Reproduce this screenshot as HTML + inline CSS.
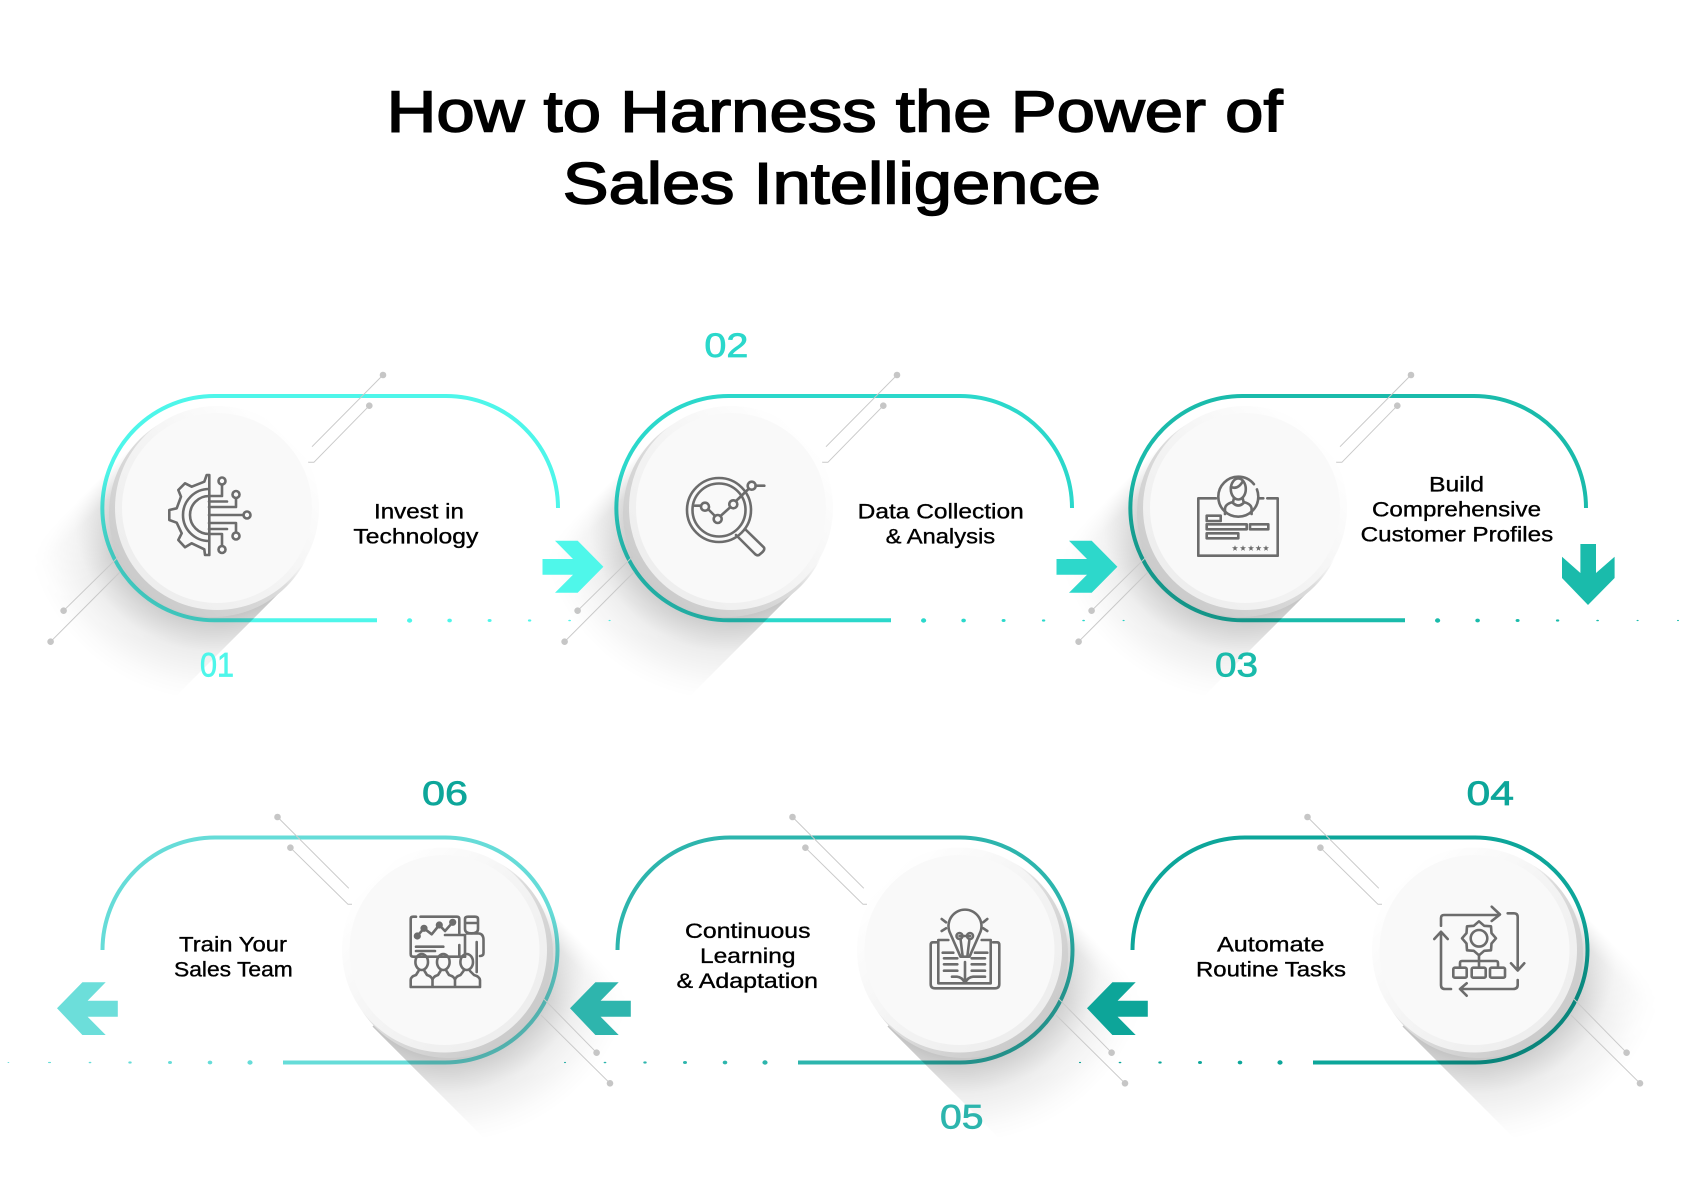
<!DOCTYPE html>
<html><head><meta charset="utf-8"><title>How to Harness the Power of Sales Intelligence</title>
<style>
html,body{margin:0;padding:0;background:#fff}
svg{display:block}
text{font-family:"Liberation Sans",Arial,sans-serif}
.t{fill:#000;stroke:#000;stroke-width:.35;font-size:21px}
.n{font-size:34px;stroke-width:.7}
.h{fill:#000;stroke:#000;stroke-width:1.5;font-size:58px}
.ic{fill:none;stroke:#6c6c6c;stroke-width:2.6;stroke-linecap:round;stroke-linejoin:round}
.dl{stroke:#c9c9c9;stroke-width:1;fill:none}
.dd{fill:#c6c6c6}
</style></head><body>
<svg width="1681" height="1181" viewBox="0 0 1681 1181" xmlns="http://www.w3.org/2000/svg">
<defs>
<radialGradient id="sx" cx="0" cy="0" r="190" gradientUnits="userSpaceOnUse">
<stop offset=".5" stop-color="#000" stop-opacity=".27"/><stop offset=".58" stop-color="#000" stop-opacity=".2"/><stop offset=".74" stop-color="#000" stop-opacity=".07"/><stop offset=".92" stop-color="#000" stop-opacity=".015"/><stop offset="1" stop-color="#000" stop-opacity="0"/>
</radialGradient>
<linearGradient id="sy" x1="0" x2="0" y1="-104" y2="104" gradientUnits="userSpaceOnUse">
<stop offset="0" stop-color="#fff"/><stop offset=".7" stop-color="#eee"/><stop offset=".9" stop-color="#999"/><stop offset="1" stop-color="#000"/>
</linearGradient>
<mask id="sm" maskUnits="userSpaceOnUse" x="-10" y="-110" width="230" height="220"><rect x="-10" y="-110" width="230" height="220" fill="url(#sy)"/></mask>
<g id="shadow"><rect x="0" y="-104" width="190" height="208" fill="url(#sx)" mask="url(#sm)"/></g>
<linearGradient id="d1" x1="0" y1="1" x2="1" y2="0"><stop offset="0" stop-color="#ebebeb"/><stop offset=".5" stop-color="#f4f4f4"/><stop offset=".85" stop-color="#fff"/></linearGradient>
<linearGradient id="d2" x1="1" y1="1" x2="0" y2="0"><stop offset="0" stop-color="#ebebeb"/><stop offset=".5" stop-color="#f4f4f4"/><stop offset=".85" stop-color="#fff"/></linearGradient>
<linearGradient id="g1" x1="0" y1="1" x2="1" y2="0"><stop offset="0" stop-color="#c4c4c4"/><stop offset=".5" stop-color="#dcdcdc"/><stop offset=".62" stop-color="#fff"/></linearGradient>
<linearGradient id="g2" x1="1" y1="1" x2="0" y2="0"><stop offset="0" stop-color="#c4c4c4"/><stop offset=".5" stop-color="#dcdcdc"/><stop offset=".62" stop-color="#fff"/></linearGradient>
<polygon id="star" points="0,-3 .8,-1 3,-1 1.2,.4 1.9,2.6 0,1.3 -1.9,2.6 -1.2,.4 -3,-1 -.8,-1"/>

<g id="r1">
<path d="M558 508A112 112 0 0 0 446 396H214.5A112 112 0 0 0 214.5 620.3H377" fill="none" stroke="currentColor" stroke-width="4"/>
<use href="#shadow" transform="translate(214 511) rotate(135)"/>
<path class="dl" d="M383 375L312 446.7M369.3 405.7L313.9 462.3H308M63.6 610.7L121 554.3H125M50.6 641.7L120 572"/>
<circle class="dd" cx="383" cy="375" r="3.3"/><circle class="dd" cx="369.3" cy="405.7" r="3.3"/><circle class="dd" cx="63.6" cy="610.7" r="3.3"/><circle class="dd" cx="50.6" cy="641.7" r="3.3"/>
<circle cx="213" cy="513" r="104" fill="url(#g1)"/>
<circle cx="217" cy="508" r="102" fill="url(#d1)"/>
<circle cx="217" cy="508" r="95" fill="#f9f9f9"/>
<g fill="currentColor"><ellipse cx="409.6" cy="620.5" rx="2.6" ry="2.2"/><ellipse cx="449.6" cy="620.5" rx="2.3" ry="1.9"/><ellipse cx="489.6" cy="620.5" rx="2" ry="1.5"/><ellipse cx="529.6" cy="620.5" rx="1.7" ry="1.1"/><ellipse cx="569.6" cy="620.5" rx="1.4" ry=".8"/><ellipse cx="609.6" cy="620.5" rx="1.1" ry=".6"/></g>
</g>

<g id="r2">
<path d="M1132.5 950A112.5 112.5 0 0 1 1245 837.5H1475A112.5 112.5 0 0 1 1475 1062.5H1313" fill="none" stroke="currentColor" stroke-width="4"/>
<use href="#shadow" transform="translate(1476 953) rotate(45) scale(1 -1)"/>
<path class="dl" d="M1307.5 817L1378.8 888.3M1320.4 847.7L1378 904.3H1382M1566 996H1571L1626.6 1052.7M1571 1015L1640 1083.3"/>
<circle class="dd" cx="1307.5" cy="817" r="3.3"/><circle class="dd" cx="1320.4" cy="847.7" r="3.3"/><circle class="dd" cx="1626.6" cy="1052.7" r="3.3"/><circle class="dd" cx="1640" cy="1083.3" r="3.3"/>
<circle cx="1479" cy="954" r="104" fill="url(#g2)"/>
<circle cx="1474.5" cy="950" r="102.5" fill="url(#d2)"/>
<circle cx="1474.5" cy="950" r="95" fill="#f9f9f9"/>
<g fill="currentColor"><ellipse cx="1280" cy="1062.5" rx="2.6" ry="2.2"/><ellipse cx="1240" cy="1062.5" rx="2.3" ry="1.9"/><ellipse cx="1200" cy="1062.5" rx="2" ry="1.5"/><ellipse cx="1160" cy="1062.5" rx="1.7" ry="1.1"/><ellipse cx="1120" cy="1062.5" rx="1.4" ry=".8"/><ellipse cx="1080" cy="1062.5" rx="1.1" ry=".6"/></g>
</g>
</defs>

<rect width="1681" height="1181" fill="#fff"/>

<text class="h" x="386.6" y="131.7" textLength="896" lengthAdjust="spacingAndGlyphs">How to Harness the Power of</text>
<text class="h" x="562.8" y="203.3" textLength="538" lengthAdjust="spacingAndGlyphs">Sales Intelligence</text>

<use href="#r1" style="color:#4ef6ea"/>
<use href="#r1" transform="translate(514 0)" style="color:#2bd8cb"/>
<use href="#r1" transform="translate(1028 0)" style="color:#1abbab"/>
<ellipse cx="1678" cy="620.5" rx="1" ry=".6" fill="#1abbab"/>
<use href="#r2" style="color:#0da69a"/>
<use href="#r2" transform="translate(-515 0)" style="color:#2db5ad"/>
<use href="#r2" transform="translate(-1030 0)" style="color:#66dcd8"/>
<g fill="#66dcd8"><ellipse cx="49" cy="1062.5" rx="1" ry=".6"/><ellipse cx="8.4" cy="1062.5" rx=".9" ry=".5"/></g>

<!-- arrows -->
<polygon fill="#4ff7ea" points="542.5,559 573,559 555,540.7 577.7,540.7 603.4,566.7 577.7,592.7 555,592.7 573,574.7 542.5,574.7"/>
<polygon fill="#2dd8cb" transform="translate(514 0)" points="542.5,559 573,559 555,540.7 577.7,540.7 603.4,566.7 577.7,592.7 555,592.7 573,574.7 542.5,574.7"/>
<polygon fill="#1abbab" points="1580.4,544 1596,544 1596,573 1614.6,556.7 1614.6,578 1588,605 1562,578 1562,556.7 1580.4,573"/>
<polygon fill="#0da599" points="1087,1008.3 1112.4,982.3 1135.7,982.3 1117.6,1000.7 1147.8,1000.7 1147.8,1016.7 1117.6,1016.7 1135.7,1035 1112.4,1035"/>
<polygon fill="#2eb5ad" transform="translate(-517 0)" points="1087,1008.3 1112.4,982.3 1135.7,982.3 1117.6,1000.7 1147.8,1000.7 1147.8,1016.7 1117.6,1016.7 1135.7,1035 1112.4,1035"/>
<polygon fill="#6cdeda" transform="translate(-1030 0)" points="1087,1008.3 1112.4,982.3 1135.7,982.3 1117.6,1000.7 1147.8,1000.7 1147.8,1016.7 1117.6,1016.7 1135.7,1035 1112.4,1035"/>

<!-- icon 1 -->
<g class="ic">
<path d="M209.3 475H206.7L204.3 481.7L191.7 486.7L185 483.3L178.3 490L181 496.7L176.7 508.3L169.3 510V520L176.7 522.7L181.7 533.3L178.3 540L185 547.3L191.7 543.3L204.3 549.3L205 555H209.3Z"/>
<path d="M209 489A26 26 0 0 0 209 541M209 496A19 19 0 0 0 209 534"/>
<path d="M209 515H243.5M209 496H222V484.5M209 507H236V498M209 501.5H227M209 523H236V532.5M209 529H227M209 534H222V546"/>
<circle cx="247" cy="515" r="3.5"/><circle cx="222" cy="481" r="3.5"/><circle cx="236" cy="494.5" r="3.5"/><circle cx="236" cy="536" r="3.5"/><circle cx="222" cy="549.5" r="3.5"/>
</g>
<!-- icon 2 -->
<g class="ic">
<circle cx="719" cy="510" r="32"/><circle cx="719" cy="510" r="26.5"/>
<path d="M695 505.7H701M708.5 509.5L715 516M720.5 516L730.5 507M736 501L748.5 489M755.5 485.7H764.3"/>
<circle cx="705" cy="506.7" r="4"/><circle cx="717.7" cy="519" r="4"/><circle cx="733.3" cy="504.3" r="4"/><circle cx="751.7" cy="485.7" r="4"/>
<path d="M745 529L764 547.5Q765 550 762 552.5L759 555Q756.7 556 754.5 553.5L736 535"/>
</g>
<!-- icon 3 -->
<g class="ic">
<path d="M1216 498.3H1198.3V555.7H1277.7V498.3H1267.3M1258.3 498.3H1263.3"/>
<circle cx="1238.3" cy="496.7" r="20" stroke-dasharray="112 6"/>
<ellipse cx="1238.3" cy="489" rx="7.5" ry="10.5"/>
<path d="M1231 487Q1238 490 1243 481M1225 514V509Q1225 504 1233 502L1234 498M1251.6 514V509Q1251.6 504 1243.6 502L1242.6 498M1233 503Q1238.3 508 1243.6 503"/>
<rect x="1206.7" y="515.7" width="14" height="5.3"/><rect x="1206.7" y="524.3" width="40" height="5"/><rect x="1250" y="524.3" width="18.3" height="5"/><rect x="1206.7" y="533.3" width="31.6" height="5"/>
</g>
<g fill="#6c6c6c"><use href="#star" x="1235" y="548.3"/><use href="#star" x="1243" y="548.3"/><use href="#star" x="1251" y="548.3"/><use href="#star" x="1258.5" y="548.3"/><use href="#star" x="1266" y="548.3"/></g>
<!-- icon 4 -->
<g class="ic">
<path d="M1441 925.7V918Q1441 915 1444 915H1499M1491.7 906.7L1500 914.5L1491.7 921"/>
<path d="M1507.7 913.3H1514Q1517.7 913.3 1517.7 917V969M1511 963.3L1517.7 970.5L1524.3 963.3"/>
<path d="M1517.7 980V985Q1517.7 989 1513 989H1461M1466.7 983.3L1460 989L1466.7 995.7"/>
<path d="M1451 989H1445Q1441 989 1441 985V932M1434.3 939L1441 931.7L1447.7 939"/>
<path d="M1496 938.3L1491.5 943.5L1491 950.3L1484.2 950.8L1479 955.3L1473.8 950.8L1467 950.3L1466.5 943.5L1462 938.3L1466.5 933.1L1467 926.3L1473.8 925.8L1479 921.3L1484.2 925.8L1491 926.3L1491.5 933.1Z"/>
<circle cx="1479" cy="938.3" r="8.3"/>
<path d="M1479 955V967.7M1460 967.7V963Q1460 961 1462 961H1496Q1498 961 1498 963V967.7"/>
<rect x="1453.3" y="967.7" width="13.4" height="10" rx="1.5"/><rect x="1471.7" y="967.7" width="14" height="10" rx="1.5"/><rect x="1490" y="967.7" width="15" height="10" rx="1.5"/>
</g>
<!-- icon 5 -->
<g class="ic">
<path d="M960.5 956.7L950.5 934A16.5 16.5 0 1 1 979.5 934L969.5 956.7Z"/>
<circle cx="959.5" cy="936" r="3"/><circle cx="970" cy="936" r="3"/>
<path d="M962.5 955L960.5 939M967.5 955L969.5 939M959.5 936H970"/>
<path d="M941.7 919L946 922.3M941.7 931L946 928.3M987.3 919L983.3 922.3M987.3 931L983.3 928.3"/>
<path d="M936.7 942.3H932.7Q930.7 942.3 930.7 945V984Q930.7 988.3 935 988.3H995Q999.3 988.3 999.3 984V945Q999.3 942.3 997.3 942.3H993"/>
<path d="M948.3 940H938.3V983.3H990.7V940H981.7M965 962V983M942.7 952.7H953.3M944 958.3H957.3M944 964.3H957.3M944 970.7H957.3M975 952.7H987.3M971.7 958.3H985M971.7 964.3H985M971.7 970.7H985M952 976.7H957Q962 977 965 983Q968 977 973 976.7H985"/>
</g>
<!-- icon 6 -->
<g class="ic">
<path d="M416 916.7H413Q410.7 916.7 410.7 919V954Q410.7 956.7 413 956.7H465M420.5 916.7H457Q459.3 916.7 459.3 919V933"/>
<path d="M459.3 945V956.7M416 946.7H443.3M416 951H435"/>
<path d="M417.3 936L424 928.3L431.7 934.3L439.3 925L445 931L452.7 922.3"/>
<circle cx="417.3" cy="936" r="2.3"/><circle cx="424" cy="928.3" r="2.3"/><circle cx="439.3" cy="925" r="2.3"/><circle cx="452.7" cy="922.3" r="2.3"/>
<path d="M465 923V929Q465 933.3 471.5 933.3Q478 933.3 478 929V923M465 923V919Q465 916.7 468 916.7H475Q478 916.7 478 919V923H465"/>
<path d="M445 935H465V956.7M467 933.5H479Q483.5 934 483.5 940V953Q483.5 956 480 956M476.7 942V972"/>
<ellipse cx="421.7" cy="962" rx="6.3" ry="8"/><ellipse cx="443.3" cy="962" rx="6.3" ry="8"/><ellipse cx="466.7" cy="962" rx="6.3" ry="8"/>
<path d="M410.7 987V980Q410.7 976.5 416 975L418.5 971M432.5 987V980Q432 976.5 427 975L424.5 971M432.5 980Q433 976.5 438 975L440.5 971M455 987V980Q454.5 976.5 449 975L446.5 971M455 980Q455.5 976.5 460.5 975L463.5 971M480 987V980Q479.5 976.5 474 975L470 971M410.7 987H480"/>
</g>

<!-- labels -->
<text class="t" x="374" y="518.3" textLength="90" lengthAdjust="spacingAndGlyphs">Invest in</text>
<text class="t" x="353.4" y="543.3" textLength="125" lengthAdjust="spacingAndGlyphs">Technology</text>
<text class="t" x="857.7" y="518.3" textLength="166" lengthAdjust="spacingAndGlyphs">Data Collection</text>
<text class="t" x="885.6" y="543.3" textLength="109.5" lengthAdjust="spacingAndGlyphs">&amp; Analysis</text>
<text class="t" x="1429" y="491.7" textLength="55" lengthAdjust="spacingAndGlyphs">Build</text>
<text class="t" x="1372" y="516.7" textLength="169" lengthAdjust="spacingAndGlyphs">Comprehensive</text>
<text class="t" x="1360.7" y="541.7" textLength="192.5" lengthAdjust="spacingAndGlyphs">Customer Profiles</text>
<text class="t" x="1217" y="951.7" textLength="107.5" lengthAdjust="spacingAndGlyphs">Automate</text>
<text class="t" x="1196" y="976.7" textLength="150" lengthAdjust="spacingAndGlyphs">Routine Tasks</text>
<text class="t" x="685" y="938" textLength="125.5" lengthAdjust="spacingAndGlyphs">Continuous</text>
<text class="t" x="700" y="963" textLength="95.5" lengthAdjust="spacingAndGlyphs">Learning</text>
<text class="t" x="676.5" y="988" textLength="141.5" lengthAdjust="spacingAndGlyphs">&amp; Adaptation</text>
<text class="t" x="179" y="951.7" textLength="108" lengthAdjust="spacingAndGlyphs">Train Your</text>
<text class="t" x="174" y="976.7" textLength="118.8" lengthAdjust="spacingAndGlyphs">Sales Team</text>

<!-- numbers -->
<text class="n" x="200" y="676.7" fill="#4ef6ea" stroke="#4ef6ea" textLength="34" lengthAdjust="spacingAndGlyphs">01</text>
<text class="n" x="704.4" y="357" fill="#2bd8cb" stroke="#2bd8cb" textLength="44" lengthAdjust="spacingAndGlyphs">02</text>
<text class="n" x="1215" y="676.7" fill="#1abbab" stroke="#1abbab" textLength="43" lengthAdjust="spacingAndGlyphs">03</text>
<text class="n" x="1466.5" y="805" fill="#0da69a" stroke="#0da69a" textLength="47.5" lengthAdjust="spacingAndGlyphs">04</text>
<text class="n" x="940" y="1128.3" fill="#2db5ad" stroke="#2db5ad" textLength="43.5" lengthAdjust="spacingAndGlyphs">05</text>
<text class="n" x="422" y="805" fill="#0da69a" stroke="#0da69a" textLength="46" lengthAdjust="spacingAndGlyphs">06</text>
</svg>
</body></html>
